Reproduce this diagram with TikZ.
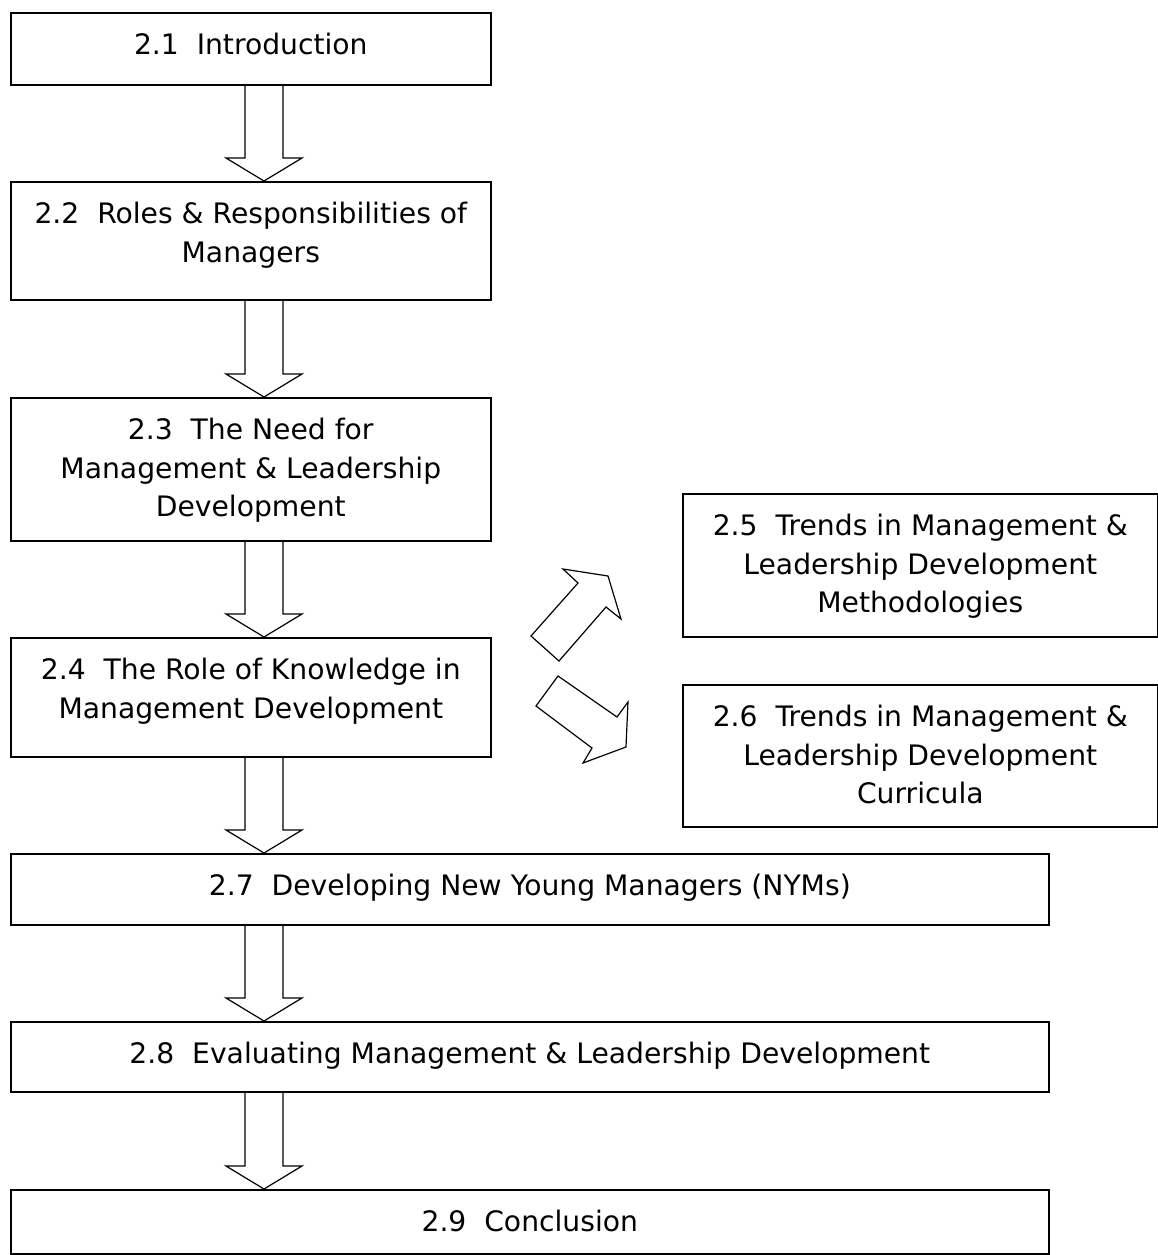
\documentclass[tikz,border=0pt]{standalone}
\usepackage{fontspec}
\setmainfont{DejaVu Sans}
\usetikzlibrary{calc}
\newcommand\bxtext[3]{\parbox[t][#2][t]{#1}{\centering\rule{0pt}{21pt}#3\par}}
\newcommand\blockdown[2]{%
  \coordinate (t) at (#1.south -| ax);
  \coordinate (b) at (#2.north -| ax);
  \draw[blockarrow] ($(t)+(-19,0)$) -- ($(b)+(-19,-23)$) -- ($(b)+(-38,-23)$) -- (b)
    -- ($(b)+(38,-23)$) -- ($(b)+(19,-23)$) -- ($(t)+(19,0)$);}
\begin{document}
\begin{tikzpicture}[x=0.5pt,y=-0.5pt,
  box/.style={draw, line width=0.8pt, inner sep=0pt, anchor=north west,
    font=\fontsize{14.1pt}{19.15pt}\selectfont},
  blockarrow/.style={draw, line width=0.6pt, line join=miter}]
\useasboundingbox (0,0) rectangle (1158,1255);
\coordinate (ax) at (264,0);
\node[box] (n1) at (10,12)   {\bxtext{240pt}{36pt}{2.1~~Introduction}};
\node[box] (n2) at (10,181)  {\bxtext{240pt}{59pt}{2.2~~Roles \& Responsibilities of\\Managers}};
\node[box] (n3) at (10,397)  {\bxtext{240pt}{71.5pt}{2.3~~The Need for\\Management \& Leadership\\Development}};
\node[box] (n4) at (10,637)  {\bxtext{240pt}{59.5pt}{2.4~~The Role of Knowledge in\\Management Development}};
\node[box] (n5) at (682,493) {\bxtext{237.5pt}{71.5pt}{2.5~~Trends in Management \&\\Leadership Development\\Methodologies}};
\node[box] (n6) at (682,684) {\bxtext{237.5pt}{71pt}{2.6~~Trends in Management \&\\Leadership Development\\Curricula}};
\node[box] (n7) at (10,853)  {\bxtext{519pt}{35.5pt}{2.7~~Developing New Young Managers (NYMs)}};
\node[box] (n8) at (10,1021) {\bxtext{519pt}{35pt}{2.8~~Evaluating Management \& Leadership Development}};
\node[box] (n9) at (10,1189) {\bxtext{519pt}{32pt}{2.9~~Conclusion}};
\blockdown{n1}{n2}
\blockdown{n2}{n3}
\blockdown{n3}{n4}
\blockdown{n4}{n7}
\blockdown{n7}{n8}
\blockdown{n8}{n9}
% diagonal block arrows toward 2.5 and 2.6
\draw[blockarrow] (531,636) -- (578,583) -- (563,569) -- (608,576) -- (621,619)
  -- (606,607) -- (559,661) -- cycle;
\draw[blockarrow] (558,676) -- (617,717) -- (628,702) -- (626,747) -- (583,763)
  -- (592,748) -- (536,706) -- cycle;
\end{tikzpicture}
\end{document}
